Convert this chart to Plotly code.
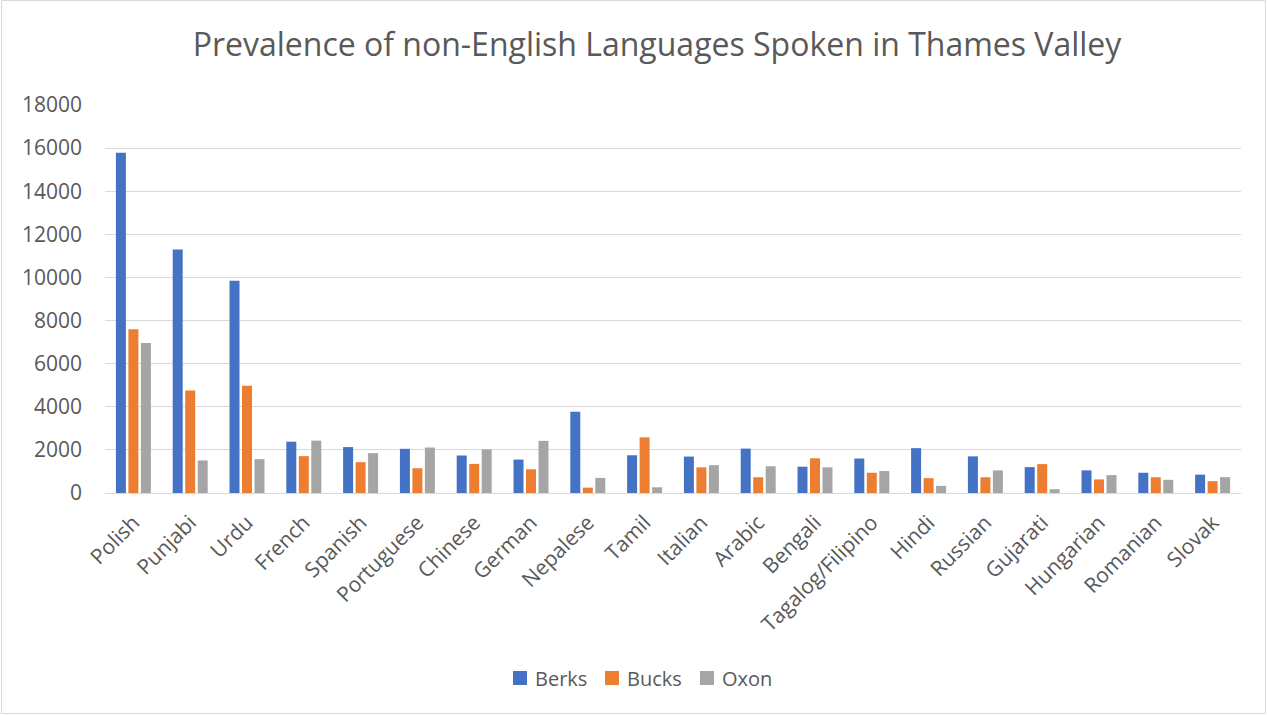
import plotly.graph_objects as go

languages = ["Polish", "Punjabi", "Urdu", "French", "Spanish", "Portuguese", "Chinese",
             "German", "Nepalese", "Tamil", "Italian", "Arabic", "Bengali",
             "Tagalog/Filipino", "Hindi", "Russian", "Gujarati", "Hungarian",
             "Romanian", "Slovak"]

berks = [15780, 11300, 9850, 2380, 2130, 2050, 1740, 1550, 3770, 1750, 1690, 2060, 1220,
         1600, 2080, 1700, 1200, 1050, 940, 850]
bucks = [7600, 4750, 4970, 1710, 1430, 1150, 1350, 1100, 250, 2580, 1190, 730, 1610,
         940, 690, 730, 1340, 630, 730, 550]
oxon = [6960, 1510, 1570, 2430, 1850, 2110, 2020, 2420, 700, 265, 1290, 1240, 1190,
        1020, 330, 1050, 175, 830, 610, 735]

series = [("Berks", berks, "#4472C4"), ("Bucks", bucks, "#ED7D31"), ("Oxon", oxon, "#A5A5A5")]

TEXT = "#595959"
FONT = "Open Sans"

W, H = 1267, 715
L, R, T, B = 105, 26, 105, 222
pw, ph = W - L - R, H - T - B


def px_x(x):
    return (x - L) / pw


def px_y(y):
    return (T + ph - y) / ph


fig = go.Figure()
for name, vals, color in series:
    fig.add_trace(go.Bar(
        name=name, x=languages, y=vals, showlegend=False,
        marker=dict(color=color, line=dict(width=0)),
    ))

# outer chart border
shapes = [dict(type="rect", xref="paper", yref="paper",
               x0=px_x(1.5), x1=px_x(W - 1.5), y0=px_y(H - 1.5), y1=px_y(0.5),
               line=dict(color="#d9d9d9", width=1), fillcolor="rgba(0,0,0,0)",
               layer="below")]
annotations = []

# legend row along the bottom: swatch + series name
legend_left = [513, 605, 700]
legend_mid = 678
for (name, _, color), x0 in zip(series, legend_left):
    shapes.append(dict(type="rect", xref="paper", yref="paper",
                       x0=px_x(x0), x1=px_x(x0 + 14),
                       y0=px_y(legend_mid + 7), y1=px_y(legend_mid - 7),
                       line=dict(width=0), fillcolor=color))
    annotations.append(dict(text=name, xref="paper", yref="paper",
                            x=px_x(x0 + 20), y=px_y(legend_mid), xanchor="left",
                            yanchor="middle", showarrow=False,
                            font=dict(family=FONT, size=20, color=TEXT)))

fig.update_layout(
    width=W, height=H,
    margin=dict(l=L, r=R, t=T, b=B, autoexpand=False),
    paper_bgcolor="white", plot_bgcolor="white",
    barmode="group", bargap=0.34, bargroupgap=0.2,
    font=dict(family=FONT, color=TEXT, size=20),
    showlegend=False,
    title=dict(text="Prevalence of non-English Languages Spoken in Thames Valley",
               x=px_x(657), xref="paper", xanchor="center",
               y=1 - 45 / H, yanchor="middle",
               font=dict(family=FONT, size=32, color=TEXT)),
    xaxis=dict(tickangle=-45, showgrid=False, showline=True, linecolor="#d9d9d9",
               linewidth=1, ticks="", ticklabelstandoff=8,
               tickfont=dict(size=21, color=TEXT)),
    yaxis=dict(range=[0, 18000], dtick=2000, showgrid=True, gridcolor="#d9d9d9",
               gridwidth=1, zeroline=False, ticks="", ticklabelstandoff=22,
               tickformat="d", tickfont=dict(size=21, color=TEXT)),
    shapes=shapes,
    annotations=annotations,
)

fig.write_html("out.html")
